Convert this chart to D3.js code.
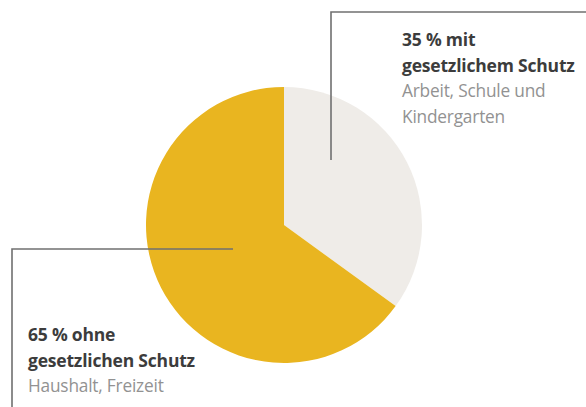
<!DOCTYPE html>
<html lang="de">
<head>
<meta charset="UTF-8">
<title>Gesetzlicher Schutz</title>
<script src="https://d3js.org/d3.v7.min.js"></script>
<style>
    body { margin: 0; background: #fff; }
    .kopf { font: bold 17.5px "Open Sans", sans-serif; fill: #3c3c3c; letter-spacing: -0.2px; }
    .unter { font: 17.3px "Open Sans", sans-serif; fill: #929292; letter-spacing: -0.2px; }
    .linie { fill: none; stroke: #707070; stroke-width: 1.6px; }
</style>
</head>
<body>
<div id="chart"></div>
<script>
    // Anteile (im Uhrzeigersinn ab 12 Uhr)
    const kategorien = ["mit gesetzlichem Schutz", "ohne gesetzlichen Schutz"];
    const werte = [35, 65];
    const farben = ["#efece8", "#e9b520"];

    // Beschriftungen
    const kopfzeilen = [
        ["35 % mit", "gesetzlichem Schutz"],
        ["65 % ohne", "gesetzlichen Schutz"]
    ];
    const unterzeilen = [
        ["Arbeit, Schule und", "Kindergarten"],
        ["Haushalt, Freizeit"]
    ];

    const width = 586, height = 407;
    const cx = 284, cy = 225, r = 138;

    const svg = d3.select("#chart").append("svg")
        .attr("width", width)
        .attr("height", height);

    const pie = d3.pie().sort(null).value(d => d);
    const arc = d3.arc().innerRadius(0).outerRadius(r);

    const g = svg.append("g").attr("transform", `translate(${cx},${cy})`);

    g.selectAll("path")
        .data(pie(werte))
        .enter()
        .append("path")
        .attr("d", arc)
        .attr("fill", (d, i) => farben[i]);

    // Hinweislinien
    svg.append("path")
        .attr("class", "linie")
        .attr("d", `M${cx + 47},${cy - 65} V12 H${width}`);

    svg.append("path")
        .attr("class", "linie")
        .attr("d", `M${cx - 51},${cy + 24} H12 V${height}`);

    // Textblöcke
    const bloecke = [
        { x: 402, y: 46, i: 0 },
        { x: 28, y: 341, i: 1 }
    ];

    bloecke.forEach(b => {
        const t = svg.append("text").attr("x", b.x).attr("y", b.y);
        kopfzeilen[b.i].forEach((z, j) => {
            t.append("tspan").attr("class", "kopf")
                .attr("x", b.x).attr("dy", j === 0 ? 0 : 25.8).text(z);
        });
        unterzeilen[b.i].forEach(z => {
            t.append("tspan").attr("class", "unter")
                .attr("x", b.x).attr("dy", 25.5).text(z);
        });
    });
</script>
</body>
</html>
